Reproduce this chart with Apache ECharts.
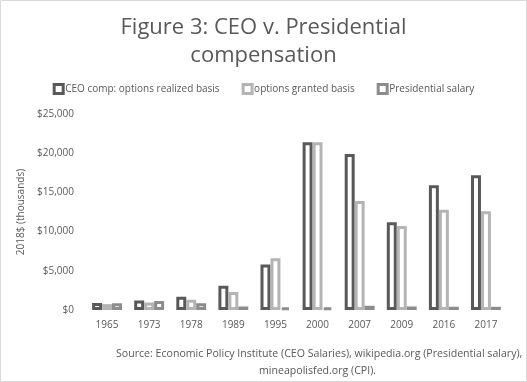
<!DOCTYPE html>
<html><head><meta charset="utf-8">
<script src="https://cdn.jsdelivr.net/npm/echarts@6/dist/echarts.min.js"></script>
<style>html,body{margin:0;padding:0;background:#fff}#c{width:527px;height:382px}</style>
</head><body><div id="c"></div>
<script>
var years = ['1965','1973','1978','1989','1995','2000','2007','2009','2016','2017'];
var ceoRealized = [900, 1200, 1700, 3100, 5800, 21400, 19900, 11200, 15900, 17200];
var ceoGranted = [750, 950, 1300, 2300, 6600, 21400, 13900, 10700, 12800, 12600];
var presSalary = [850, 1150, 850, 450, 350, 300, 540, 450, 420, 410];
var seriesNames = ['CEO comp: options realized basis', 'options granted basis', 'Presidential salary'];
var colors = ['#595959', '#b4b4b4', '#8c8c8c'];
var FONT = 'Open Sans';

var chart = echarts.init(document.getElementById('c'));
function mk(name, data, color) {
  return {
    name: name, type: 'bar', data: data,
    barGap: '0%', barCategoryGap: '29%',
    itemStyle: { color: '#ffffff', borderColor: color, borderWidth: 3 },
    emphasis: { disabled: true }
  };
}
chart.setOption({
  animation: false,
  textStyle: { fontFamily: FONT },
  title: {
    text: 'Figure 3: CEO v. Presidential\ncompensation',
    left: 'center', top: 9,
    textStyle: { fontFamily: FONT, fontSize: 22, fontWeight: 'normal', color: '#595959', lineHeight: 28 }
  },
  legend: {
    top: 78, left: 'center', itemGap: 22, itemWidth: 9, itemHeight: 9,
    icon: 'rect',
    data: seriesNames.map(function (n, i) {
      return { name: n, itemStyle: { color: '#fff', borderColor: colors[i], borderWidth: 3 } };
    }),
    textStyle: { fontFamily: FONT, fontSize: 10, color: '#595959', padding: [0, 0, 0, -3] }
  },
  grid: { left: 86, right: 20, top: 114, bottom: 72 },
  xAxis: {
    type: 'category', data: years,
    axisLine: { show: false }, axisTick: { show: false },
    axisLabel: { color: '#595959', fontSize: 10, fontFamily: FONT, margin: 10 }
  },
  yAxis: {
    type: 'value', min: 0, max: 25000, interval: 5000,
    name: '2018$ (thousands)', nameLocation: 'middle', nameGap: 51, nameRotate: 90,
    nameTextStyle: { color: '#595959', fontSize: 10, fontFamily: FONT },
    splitLine: { show: false }, axisLine: { show: false }, axisTick: { show: false },
    axisLabel: {
      color: '#595959', fontSize: 10, fontFamily: FONT, margin: 12,
      formatter: function (v) { return '$' + v.toLocaleString('en-US'); }
    }
  },
  graphic: [
    { type: 'rect', shape: { x: 0.5, y: 0.5, width: 526, height: 381 },
      style: { fill: 'none', stroke: '#d9d9d9', lineWidth: 1 }, silent: true },
    { type: 'text', left: 116, top: 348,
      style: { text: 'Source: Economic Policy Institute (CEO Salaries), wikipedia.org (Presidential salary),',
        fontFamily: FONT, fontSize: 10.6, fill: '#595959' } },
    { type: 'text', left: 259, top: 365,
      style: { text: 'mineapolisfed.org (CPI).', fontFamily: FONT, fontSize: 10.6, fill: '#595959' } }
  ],
  series: [
    mk(seriesNames[0], ceoRealized, colors[0]),
    mk(seriesNames[1], ceoGranted, colors[1]),
    mk(seriesNames[2], presSalary, colors[2])
  ]
});
</script></body></html>
